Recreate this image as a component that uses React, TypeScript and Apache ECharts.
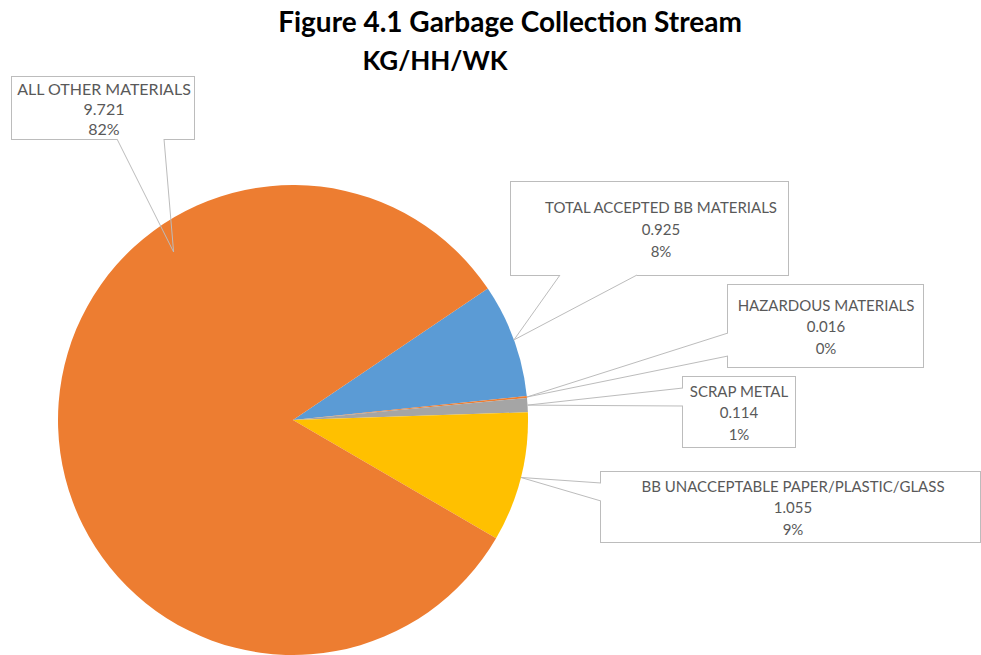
import React, { useEffect, useRef } from "react";
import * as echarts from "echarts";

// ---- Data ----
const categories = [
  "TOTAL ACCEPTED BB MATERIALS",
  "HAZARDOUS MATERIALS",
  "SCRAP METAL",
  "BB UNACCEPTABLE PAPER/PLASTIC/GLASS",
  "ALL OTHER MATERIALS",
];
const values = [0.925, 0.016, 0.114, 1.055, 9.721];
const sliceColors = ["#5B9BD5", "#ED7D31", "#A5A5A5", "#FFC000", "#ED7D31"];
const titleText = "Figure 4.1 Garbage Collection Stream";
const subtitleText = "KG/HH/WK";

// ---- Callout layout (box rect [left, top, width, height], text centre x, line height, font size, wedge base points, tip override) ----
const callouts = [
  { box: [511, 182, 277, 93], textX: 661, lineH: 22, fs: 15, base: [[560, 275], [637, 275]], tip: null },
  { box: [728, 285, 195, 82], textX: 826, lineH: 21.5, fs: 15, base: [[728, 333], [728, 356]], tip: null },
  { box: [683, 377, 112, 70], textX: 739, lineH: 21.5, fs: 15, base: [[683, 388], [683, 406]], tip: null },
  { box: [601, 472, 379, 70], textX: 793, lineH: 21.5, fs: 15, base: [[601, 483], [601, 501]], tip: null },
  { box: [12, 77, 182, 62], textX: 104, lineH: 20, fs: 16, base: [[117, 139], [164, 139]], tip: { t: 0.691, rf: 0.877 } },
] as any[];

const FONT = "Lato";
const TEXT_COLOR = "#595959";
const BORDER = "#bcbcbc";

export default function App() {
  const ref = useRef<HTMLDivElement>(null);

  useEffect(() => {
    if (!ref.current) return;
    const chart = echarts.init(ref.current, null, { renderer: "svg" });

    const data = categories.map((name, i) => {
      const c = callouts[i];
      const [left, top, w, h] = c.box;
      const dl = c.textX - left;
      const dr = left + w - c.textX;
      const W = Math.max(10, Math.min(dl, dr) * 2 - 2);
      const padL = dl - W / 2;
      const padR = dr - W / 2;
      const contentH = 3 * c.lineH;
      const padV = Math.max(0, (h - contentH) / 2);
      return {
        name,
        value: values[i],
        itemStyle: { color: sliceColors[i] },
        label: {
          width: W,
          padding: [padV, padR, padV, padL],
          lineHeight: c.lineH,
          fontSize: c.fs,
        },
      };
    });

    const option: any = {
      animation: false,
      backgroundColor: "#ffffff",
      title: [
        {
          text: titleText,
          left: 505,
          top: 2,
          textAlign: "center",
          textStyle: { fontFamily: FONT, fontWeight: "bold", fontSize: 28, color: "#000" },
        },
        {
          text: subtitleText,
          left: 430,
          top: 42,
          textAlign: "center",
          textStyle: { fontFamily: FONT, fontWeight: "bold", fontSize: 26, color: "#000" },
        },
      ],
      series: [
        {
          type: "pie",
          center: [293, 420],
          radius: 235,
          startAngle: 34,
          clockwise: true,
          avoidLabelOverlap: false,
          percentPrecision: 0,
          itemStyle: { borderWidth: 0 },
          emphasis: { disabled: true },
          label: {
            show: true,
            position: "outside",
            formatter: "{b}\n{c}\n{d}%",
            fontFamily: FONT,
            fontSize: 15,
            color: TEXT_COLOR,
            backgroundColor: "#ffffff",
            borderColor: BORDER,
            borderWidth: 1,
            overflow: "none",
          },
          labelLine: { show: false },
          labelLayout: (params: any) => {
            const c = callouts[params.dataIndex];
            const [left, top, w] = c.box;
            return { x: left + w / 2, y: top, align: "center", verticalAlign: "top" };
          },
          data,
        },
      ],
    };

    chart.setOption(option);

    // Wedge pointers from each callout box to its slice, using the pie layout computed by ECharts
    try {
      const model = (chart as any).getModel();
      const sData = model.getSeriesByIndex(0).getData();
      const graphics: any[] = [];
      callouts.forEach((c, i) => {
        const lay = sData.getItemLayout(i);
        if (!lay) return;
        const t = c.tip ? c.tip.t : 0.5;
        const rf = c.tip ? c.tip.rf : 1.0;
        const a = lay.startAngle + t * (lay.endAngle - lay.startAngle);
        const tip = [lay.cx + rf * lay.r * Math.cos(a), lay.cy + rf * lay.r * Math.sin(a)];
        graphics.push({
          type: "line",
          z: 10,
          silent: true,
          shape: { x1: c.base[0][0], y1: c.base[0][1], x2: c.base[1][0], y2: c.base[1][1] },
          style: { stroke: "#ffffff", lineWidth: 2 },
        });
        graphics.push({
          type: "polyline",
          z: 11,
          silent: true,
          shape: { points: [c.base[0], tip, c.base[1]] },
          style: { stroke: BORDER, lineWidth: 1, fill: null },
        });
      });
      chart.setOption({ graphic: graphics });
    } catch (e) {
      // ignore
    }

    return () => chart.dispose();
  }, []);

  return (
    <div
      ref={ref}
      style={{ position: "absolute", left: 0, top: 0, width: 981, height: 655 }}
    />
  );
}
